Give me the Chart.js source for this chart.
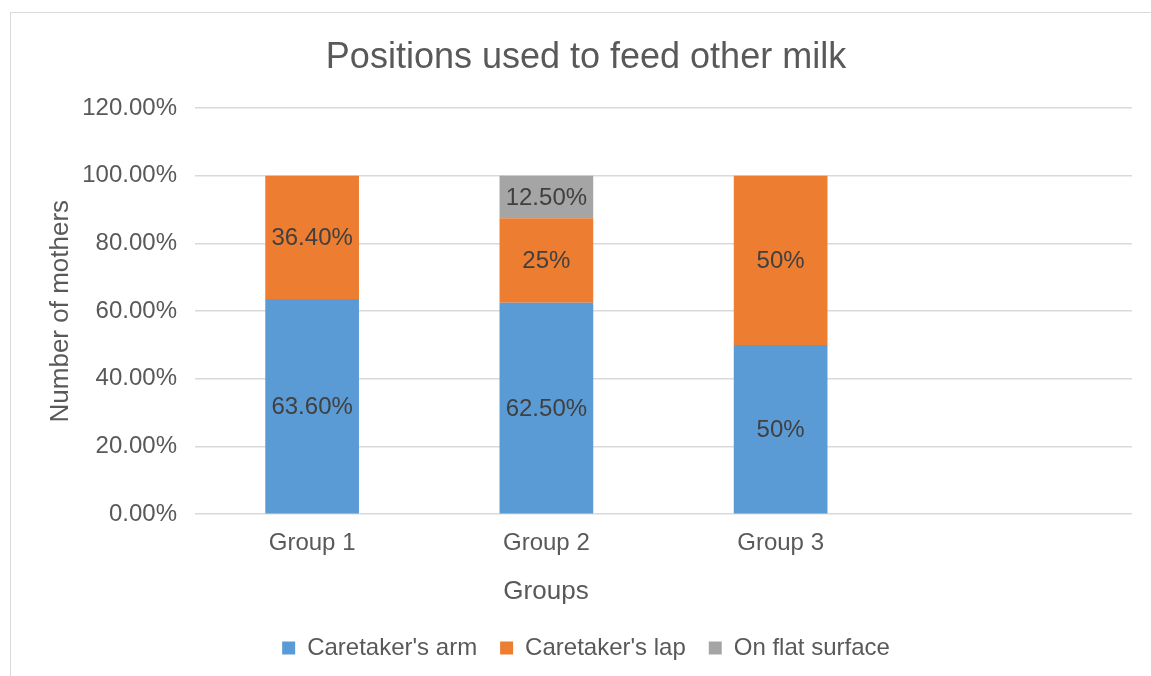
<!DOCTYPE html>
<html>
<head>
<meta charset="utf-8">
<title>Positions used to feed other milk</title>
<script src="https://cdn.jsdelivr.net/npm/chart.js@4.4.1/dist/chart.umd.min.js"></script>
<style>
  html, body { margin: 0; padding: 0; background: #ffffff; overflow: hidden; }
  #wrap { position: relative; width: 1151px; height: 676px; }
  #frame {
    position: absolute; left: 10px; top: 12px; width: 1180px; height: 700px;
    border: 1px solid #d9d9d9; box-sizing: border-box;
  }
  #chart { position: absolute; left: 0; top: 0; }
</style>
</head>
<body>
<div id="wrap">
  <div id="frame"></div>
  <canvas id="chart" width="1151" height="676"></canvas>
</div>
<script>
// Share of mothers (%) by feeding position, per group
const categories = ['Group 1', 'Group 2', 'Group 3', ''];
const caretakersArm = [63.6, 62.5, 50, null];
const caretakersLap = [36.4, 25, 50, null];
const onFlatSurface = [0, 12.5, 0, null];
const seriesNames = ["Caretaker's arm", "Caretaker's lap", 'On flat surface'];
const yTicks = [0, 20, 40, 60, 80, 100, 120];

const FONT = '"Liberation Sans", Arial, Helvetica, sans-serif';
const TEXT = '#595959';

// Percent text for a segment: whole numbers plain, others with two decimals
function pctLabel(v) {
  return Number.isInteger(v) ? v + '%' : v.toFixed(2) + '%';
}

// Writes each segment's value in the middle of its bar piece
const segmentLabels = {
  id: 'segmentLabels',
  afterDatasetsDraw(chart) {
    const ctx = chart.ctx;
    ctx.save();
    ctx.font = '24px ' + FONT;
    ctx.fillStyle = '#404040';
    ctx.textAlign = 'center';
    ctx.textBaseline = 'middle';
    chart.data.datasets.forEach((ds, di) => {
      const meta = chart.getDatasetMeta(di);
      meta.data.forEach((bar, i) => {
        const v = ds.data[i];
        if (v == null || v === 0) return;
        ctx.fillText(pctLabel(v), bar.x, (bar.y + bar.base) / 2 + 1);
      });
    });
    ctx.restore();
  }
};

// Category axis caption, placed under the group labels
const xCaption = {
  id: 'xCaption',
  afterDraw(chart) {
    const ctx = chart.ctx;
    ctx.save();
    ctx.font = '26px ' + FONT;
    ctx.fillStyle = TEXT;
    ctx.textAlign = 'center';
    ctx.textBaseline = 'middle';
    ctx.fillText('Groups', 546, 592);
    ctx.restore();
  }
};

new Chart(document.getElementById('chart'), {
  type: 'bar',
  data: {
    labels: categories,
    datasets: [
      { label: seriesNames[0], data: caretakersArm, backgroundColor: '#5b9bd5' },
      { label: seriesNames[1], data: caretakersLap, backgroundColor: '#ed7d31' },
      { label: seriesNames[2], data: onFlatSurface, backgroundColor: '#a5a5a5' }
    ]
  },
  options: {
    responsive: false,
    animation: false,
    devicePixelRatio: 1,
    layout: { padding: { left: 40, right: 19, top: 0, bottom: 6 } },
    datasets: { bar: { barPercentage: 0.4, categoryPercentage: 1, borderWidth: 0 } },
    plugins: {
      title: {
        display: true,
        text: 'Positions used to feed other milk',
        color: TEXT,
        font: { family: FONT, size: 36, weight: 'normal' },
        padding: { top: 36, bottom: 29 }
      },
      legend: {
        position: 'bottom',
        labels: {
          color: TEXT,
          font: { family: FONT, size: 24 },
          boxWidth: 13,
          boxHeight: 13,
          padding: 23
        }
      },
      tooltip: { enabled: false }
    },
    scales: {
      x: {
        stacked: true,
        grid: { display: false, drawTicks: false },
        border: { display: false },
        ticks: { color: TEXT, font: { family: FONT, size: 24 }, padding: 15, maxRotation: 0 },
        afterFit(scale) { scale.height += 40; }
      },
      y: {
        stacked: true,
        min: 0,
        max: 120,
        afterBuildTicks(scale) { scale.ticks = yTicks.map(v => ({ value: v })); },
        afterFit(scale) { scale.width = 155; },
        grid: { color: '#d9d9d9', lineWidth: 1.5, drawTicks: false },
        border: { display: false },
        ticks: {
          color: TEXT,
          font: { family: FONT, size: 24 },
          padding: 18,
          callback: v => v.toFixed(2) + '%'
        },
        title: {
          display: true,
          text: 'Number of mothers',
          color: TEXT,
          font: { family: FONT, size: 26 },
          padding: { top: 5, bottom: 7 }
        }
      }
    }
  },
  plugins: [segmentLabels, xCaption]
});
</script>
</body>
</html>
